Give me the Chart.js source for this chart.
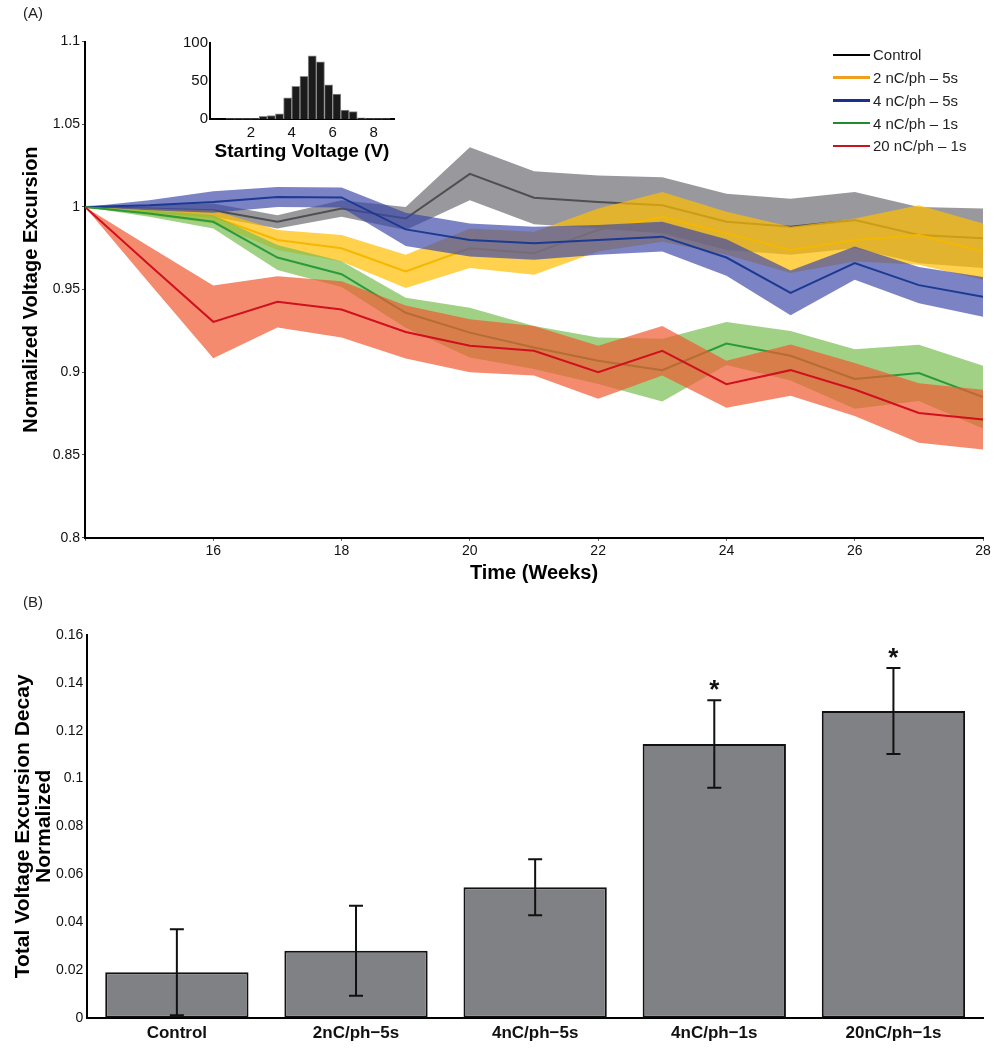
<!DOCTYPE html>
<html>
<head>
<meta charset="utf-8">
<script src="https://cdn.jsdelivr.net/npm/chart.js@4.4.1/dist/chart.umd.min.js"></script>
<style>
  body { margin: 0; background: #fff; font-family: "Liberation Sans", Arial, sans-serif; }
  #wrap { position: relative; width: 995px; height: 1050px; }
  canvas { position: absolute; }
  .tag { position: absolute; font-size: 15px; color: #222; }
  #legendA { position: absolute; left: 833px; top: 43.6px; font-size: 15px; color: #222; }
  .row { height: 22.75px; display: flex; align-items: center; white-space: nowrap; }
  .swatch { width: 37px; height: 2.5px; margin-right: 3px; }
</style>
</head>
<body>
<div id="wrap">
  <canvas id="chartA" width="995" height="590" style="left:0;top:0"></canvas>
  <canvas id="inset" width="260" height="140" style="left:150px;top:30px"></canvas>
  <div id="legendA"></div>
  <canvas id="chartB" width="995" height="460" style="left:0;top:590px"></canvas>
  <div class="tag" style="left:23px;top:4px">(A)</div>
  <div class="tag" style="left:23px;top:593px">(B)</div>
</div>
<script>
// --- panel A : normalized voltage excursion over time ---
const weeks = [14, 15, 16, 17, 18, 19, 20, 21, 22, 23, 24, 25, 26, 27, 28];
const seriesNames = ['Control', '2 nC/ph – 5s', '4 nC/ph – 5s', '4 nC/ph – 1s', '20 nC/ph – 1s'];

const controlMean = [1.0, 0.999, 0.998, 0.991, 0.999, 0.993, 1.020, 1.0055, 1.003, 1.001, 0.991, 0.988, 0.992, 0.983, 0.981];
const controlSem  = [0, 0.002, 0.004, 0.004, 0.005, 0.007, 0.016, 0.016, 0.016, 0.017, 0.017, 0.017, 0.017, 0.017, 0.018];
const nc2s5Mean   = [1.0, 0.997, 0.994, 0.980, 0.975, 0.961, 0.975, 0.972, 0.986, 0.994, 0.984, 0.974, 0.980, 0.983, 0.973];
const nc2s5Sem    = [0, 0.002, 0.004, 0.006, 0.008, 0.010, 0.012, 0.013, 0.013, 0.015, 0.013, 0.014, 0.013, 0.018, 0.017];
const nc4s5Mean   = [1.0, 1.001, 1.003, 1.006, 1.0057, 0.9864, 0.980, 0.978, 0.980, 0.982, 0.9694, 0.948, 0.966, 0.9527, 0.9456];
const nc4s5Sem    = [0, 0.003, 0.0065, 0.006, 0.006, 0.010, 0.010, 0.010, 0.009, 0.009, 0.011, 0.0135, 0.010, 0.011, 0.012];
const nc4s1Mean   = [1.0, 0.996, 0.991, 0.9694, 0.9593, 0.936, 0.924, 0.915, 0.907, 0.9013, 0.9174, 0.910, 0.896, 0.8996, 0.885];
const nc4s1Sem    = [0, 0.002, 0.004, 0.0075, 0.0078, 0.009, 0.015, 0.013, 0.014, 0.019, 0.013, 0.015, 0.018, 0.017, 0.019];
const nc20s1Mean  = [1.0, 0.965, 0.9305, 0.9426, 0.938, 0.9244, 0.916, 0.913, 0.900, 0.913, 0.8928, 0.9013, 0.8896, 0.8754, 0.8714];
const nc20s1Sem   = [0, 0.011, 0.022, 0.0155, 0.017, 0.016, 0.016, 0.015, 0.016, 0.015, 0.0142, 0.0155, 0.016, 0.018, 0.018];

// inset histogram of starting voltage
const binCenters = [0.2, 0.6, 1.0, 1.4, 1.8, 2.2, 2.6, 3.0, 3.4, 3.8, 4.2, 4.6, 5.0, 5.4, 5.8, 6.2, 6.6, 7.0, 7.4, 7.8, 8.2, 8.6];
const binCounts  = [0, 0, 1, 1, 1, 1, 4, 5, 7, 28, 43, 56, 83, 75, 45, 33, 12, 10, 2, 1, 1, 1];

// --- panel B : total decay ---
const barLabels = ['Control', '2nC/ph\u22125s', '4nC/ph\u22125s', '4nC/ph\u22121s', '20nC/ph\u22121s'];
const barMeans  = [0.019, 0.028, 0.0545, 0.1144, 0.1282];
const barErrors = [0.018, 0.0188, 0.0117, 0.0183, 0.018];
const barStars  = [false, false, false, true, true];

// couleurs / styles
const lineColors   = ['#4f4f4f', '#f5b800', '#1d3a93', '#2a9a3a', '#d0101e'];
const legendColors = ['#000000', '#f0a020', '#1c2f8c', '#1f8c32', '#c8141e'];
const bandColors   = ['rgba(110,110,115,0.7)', 'rgba(255,190,0,0.7)', 'rgba(60,72,170,0.68)',
                      'rgba(120,190,80,0.7)', 'rgba(240,90,50,0.7)'];

const FONT = '"Liberation Sans", Arial, sans-serif';
Chart.defaults.font.family = FONT;
Chart.defaults.color = '#111';

const fmt = v => String(+Number(v).toFixed(2));
const pts = arr => weeks.map((w, i) => ({ x: w, y: arr[i] }));

const groups = [
  { mean: controlMean, sem: controlSem },
  { mean: nc2s5Mean, sem: nc2s5Sem },
  { mean: nc4s5Mean, sem: nc4s5Sem },
  { mean: nc4s1Mean, sem: nc4s1Sem },
  { mean: nc20s1Mean, sem: nc20s1Sem }
];

// dataset index 0 is drawn last (on top) -> start with the red series
const datasetsA = [];
for (let k = groups.length - 1; k >= 0; k--) {
  const g = groups[k];
  datasetsA.push({ label: seriesNames[k], data: pts(g.mean), borderColor: lineColors[k], borderWidth: 2,
                   pointRadius: 0, fill: false });
  datasetsA.push({ label: seriesNames[k] + ' +', data: pts(g.mean.map((m, i) => m + g.sem[i])),
                   borderWidth: 0, pointRadius: 0, backgroundColor: bandColors[k], fill: '+1' });
  datasetsA.push({ label: seriesNames[k] + ' -', data: pts(g.mean.map((m, i) => m - g.sem[i])),
                   borderWidth: 0, pointRadius: 0, fill: false });
}

new Chart(document.getElementById('chartA'), {
  type: 'line',
  data: { datasets: datasetsA },
  options: {
    responsive: false,
    animation: false,
    events: [],
    layout: { padding: { left: 0, top: 41.5, right: 12, bottom: 0 } },
    plugins: {
      legend: { display: false },
      tooltip: { enabled: false },
      filler: { drawTime: 'beforeDatasetDraw' }
    },
    scales: {
      x: {
        type: 'linear', min: 14, max: 28,
        ticks: { stepSize: 2, callback: v => (v === 14 ? '' : v), font: { size: 14 }, padding: 2, maxRotation: 0 },
        grid: { display: true, drawOnChartArea: false, tickLength: 3, color: '#555' },
        border: { color: '#000', width: 2 },
        title: { display: true, text: 'Time (Weeks)', color: '#000',
                 font: { size: 20, weight: 'bold' }, padding: { top: 0, bottom: 5 } },
        afterFit: s => { s.height = 52.3; }
      },
      y: {
        min: 0.8, max: 1.1,
        ticks: { stepSize: 0.05, callback: fmt, font: { size: 14 }, padding: 2 },
        grid: { display: true, drawOnChartArea: false, tickLength: 3, color: '#555' },
        border: { color: '#000', width: 2 },
        title: { display: true, text: 'Normalized Voltage Excursion', color: '#000',
                 font: { size: 20, weight: 'bold' }, padding: { top: 19, bottom: 0 } },
        afterFit: s => { s.width = 85; }
      }
    }
  }
});

// legende HTML
const legendBox = document.getElementById('legendA');
seriesNames.forEach((name, k) => {
  const row = document.createElement('div');
  row.className = 'row';
  row.innerHTML = `<span class="swatch" style="background:${legendColors[k]}"></span><span>${name}</span>`;
  legendBox.appendChild(row);
});

// inset histogram
new Chart(document.getElementById('inset'), {
  type: 'bar',
  data: {
    datasets: [{
      data: binCenters.map((c, i) => ({ x: c, y: binCounts[i] })),
      backgroundColor: '#1b1b1b', borderColor: '#8c8c8c', borderWidth: 1,
      barPercentage: 1, categoryPercentage: 1
    }]
  },
  options: {
    responsive: false,
    animation: false,
    events: [],
    layout: { padding: { left: 0, top: 12.7, right: 16, bottom: 0 } },
    plugins: { legend: { display: false }, tooltip: { enabled: false } },
    scales: {
      x: {
        type: 'linear', min: 0, max: 9, offset: false,
        ticks: { stepSize: 2, includeBounds: false, callback: v => (v === 0 ? '' : v),
                 font: { size: 15 }, padding: 5, maxRotation: 0 },
        grid: { display: false, drawTicks: false },
        border: { color: '#000', width: 2 },
        title: { display: true, text: 'Starting Voltage (V)', color: '#000',
                 font: { size: 19, weight: 'bold' }, padding: { top: 0, bottom: 6.6 } },
        afterFit: s => { s.height = 50.7; }
      },
      y: {
        min: 0, max: 100,
        ticks: { stepSize: 50, font: { size: 15 }, padding: 2 },
        grid: { display: false, drawTicks: false },
        border: { color: '#000', width: 2 },
        afterFit: s => { s.width = 60; }
      }
    }
  }
});

// error bars + significance stars on panel B
const errorBarPlugin = {
  id: 'errorBars',
  afterDatasetsDraw(chart) {
    const ctx = chart.ctx;
    const yScale = chart.scales.y;
    const meta = chart.getDatasetMeta(0);
    ctx.save();
    ctx.strokeStyle = '#111';
    ctx.fillStyle = '#111';
    ctx.lineWidth = 2;
    ctx.font = 'bold 26px ' + FONT;
    ctx.textAlign = 'center';
    ctx.textBaseline = 'alphabetic';
    meta.data.forEach((bar, i) => {
      const hi = yScale.getPixelForValue(barMeans[i] + barErrors[i]);
      const lo = yScale.getPixelForValue(barMeans[i] - barErrors[i]);
      ctx.beginPath();
      ctx.moveTo(bar.x, hi); ctx.lineTo(bar.x, lo);
      ctx.moveTo(bar.x - 7, hi); ctx.lineTo(bar.x + 7, hi);
      ctx.moveTo(bar.x - 7, lo); ctx.lineTo(bar.x + 7, lo);
      ctx.stroke();
      if (barStars[i]) ctx.fillText('*', bar.x, hi - 2);
    });
    ctx.restore();
  }
};

new Chart(document.getElementById('chartB'), {
  type: 'bar',
  data: {
    labels: barLabels,
    datasets: [{
      data: barMeans,
      backgroundColor: '#808184', borderColor: '#111', borderWidth: 2, borderSkipped: false,
      barPercentage: 1, categoryPercentage: 0.8
    }]
  },
  options: {
    responsive: false,
    animation: false,
    events: [],
    layout: { padding: { left: 0, top: 45, right: 12, bottom: 0 } },
    plugins: { legend: { display: false }, tooltip: { enabled: false } },
    scales: {
      x: {
        ticks: { font: { size: 17, weight: 'bold' }, padding: 5, maxRotation: 0 },
        grid: { display: false, drawTicks: false },
        border: { color: '#000', width: 2 },
        afterFit: s => { s.height = 32.3; }
      },
      y: {
        min: 0, max: 0.16,
        ticks: { stepSize: 0.02, callback: fmt, font: { size: 14 }, padding: 4 },
        grid: { display: false, drawTicks: false },
        border: { color: '#000', width: 2 },
        title: { display: true, text: ['Total Voltage Excursion Decay', 'Normalized'], color: '#000',
                 font: { size: 21, weight: 'bold', lineHeight: 1.0 }, padding: { top: 13, bottom: 0 } },
        afterFit: s => { s.width = 87.3; }
      }
    }
  },
  plugins: [errorBarPlugin]
});
</script>
</body>
</html>
